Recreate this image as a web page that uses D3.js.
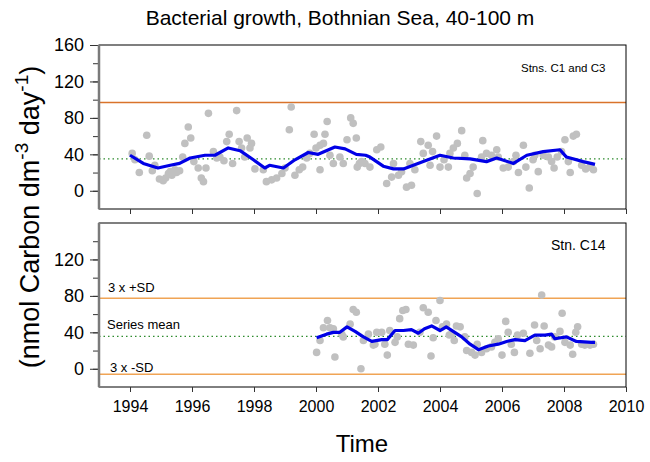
<!DOCTYPE html>
<html><head><meta charset="utf-8">
<script src="https://cdn.jsdelivr.net/npm/d3@7"></script>
<style>body{margin:0;background:#fff}svg{display:block}text{font-family:"Liberation Sans",Arial,sans-serif;fill:#000}</style>
</head><body>
<svg id="c" width="650" height="462"></svg>
<script>
// ---- data ----
const topPoints = [[1994.07,41],[1994.16,34],[1994.3,20],[1994.54,61],[1994.62,38],[1994.72,22],[1994.8,28],[1994.95,13],[1995.07,11],[1995.15,14],[1995.24,19],[1995.3,21],[1995.35,17],[1995.45,23],[1995.5,20],[1995.6,22],[1995.7,37],[1995.77,52],[1995.88,70],[1995.96,58],[1996.06,32],[1996.2,25],[1996.3,14],[1996.37,10],[1996.45,25],[1996.53,85],[1996.69,43],[1996.8,36],[1996.9,37],[1997.03,33],[1997.12,54],[1997.2,62],[1997.31,30],[1997.44,88],[1997.52,54],[1997.6,47],[1997.7,37],[1997.78,58],[1997.87,47],[1997.92,52],[1998.03,24],[1998.3,23],[1998.4,10],[1998.57,12],[1998.73,14],[1998.9,19],[1999.0,25],[1999.14,67],[1999.2,92],[1999.32,17],[1999.46,23],[1999.57,26],[1999.7,36],[1999.8,41],[1999.94,62],[2000.0,47],[2000.13,50],[2000.13,23],[2000.24,52],[2000.29,62],[2000.36,76],[2000.45,39],[2000.56,30],[2000.77,37],[2000.88,30],[2001.0,56],[2001.12,80],[2001.2,74],[2001.3,58],[2001.33,26],[2001.4,30],[2001.47,32],[2001.58,30],[2001.74,26],[2001.96,45],[2002.09,48],[2002.28,8],[2002.44,15],[2002.5,30],[2002.66,17],[2002.76,21],[2002.92,4],[2003.08,6],[2003.03,30],[2003.19,23],[2003.38,54],[2003.46,41],[2003.62,50],[2003.68,28],[2003.76,43],[2003.89,60],[2004.0,26],[2004.13,34],[2004.27,26],[2004.32,41],[2004.43,47],[2004.56,52],[2004.7,66],[2004.8,39],[2004.86,14],[2004.97,19],[2005.07,26],[2005.2,-3],[2005.34,37],[2005.38,55],[2005.5,41],[2005.66,39],[2005.83,45],[2005.88,37],[2006.04,25],[2006.2,26],[2006.37,32],[2006.45,39],[2006.53,20],[2006.69,50],[2006.77,26],[2006.88,3],[2007.0,34],[2007.06,39],[2007.17,21],[2007.33,39],[2007.5,37],[2007.6,32],[2007.68,25],[2007.78,37],[2007.92,43],[2008.03,56],[2008.14,32],[2008.2,20],[2008.3,60],[2008.4,62],[2008.57,28],[2008.7,24],[2008.84,26],[2008.95,23]];
const topSmooth = [[1994.0,39],[1994.43,30],[1994.9,25],[1995.3,28],[1995.6,30],[1995.94,36],[1996.42,39],[1996.74,39],[1997.17,47],[1997.55,44],[1997.98,34],[1998.35,25],[1998.5,28],[1998.95,25],[1999.32,34],[1999.75,42],[2000.07,40],[2000.61,48],[2000.94,46],[2001.3,40],[2001.6,39],[2001.74,37],[2002.17,27],[2002.5,24],[2002.82,24],[2003.14,28],[2003.46,32],[2004.0,39],[2004.43,36],[2004.97,35],[2005.5,32],[2005.83,36],[2006.37,30],[2006.8,39],[2007.33,43],[2007.87,45],[2008.08,37],[2008.62,32],[2009.0,29]];
const bottomPoints = [[2000.02,18],[2000.13,31],[2000.24,45],[2000.37,53],[2000.45,45],[2000.56,44],[2000.61,13],[2000.83,38],[2000.88,35],[2001.1,49],[2001.2,65],[2001.3,62],[2001.45,0],[2001.53,31],[2001.69,38],[2001.85,26],[2001.9,27],[2001.96,40],[2002.12,40],[2002.22,27],[2002.3,15],[2002.38,42],[2002.55,29],[2002.62,35],[2002.7,55],[2002.8,64],[2002.9,65],[2002.98,27],[2003.14,26],[2003.35,40],[2003.46,67],[2003.62,62],[2003.71,14],[2003.78,34],[2003.87,53],[2004.0,75],[2004.08,46],[2004.21,49],[2004.3,37],[2004.37,38],[2004.46,31],[2004.53,47],[2004.65,46],[2004.8,35],[2004.86,20],[2005.02,18],[2005.13,15],[2005.2,27],[2005.34,18],[2005.5,22],[2005.66,24],[2005.77,29],[2005.88,33],[2006.0,15],[2006.12,52],[2006.2,40],[2006.3,27],[2006.4,18],[2006.5,37],[2006.69,39],[2006.9,17],[2007.05,48],[2007.12,31],[2007.23,22],[2007.28,81],[2007.36,47],[2007.5,26],[2007.6,24],[2007.7,35],[2007.87,41],[2007.94,61],[2008.03,29],[2008.2,26],[2008.28,16],[2008.38,40],[2008.44,46],[2008.57,27],[2008.67,26],[2008.84,26],[2008.95,27]];
const bottomSmooth = [[2000.02,34],[2000.34,38],[2000.56,40],[2000.77,40],[2001.0,46],[2001.26,41],[2001.53,35],[2001.8,30],[2002.12,32],[2002.3,32],[2002.55,42],[2002.82,42],[2003.08,43],[2003.3,39],[2003.5,44],[2003.73,47],[2004.0,42],[2004.2,46],[2004.7,35],[2004.97,27],[2005.24,21],[2005.56,25],[2005.88,27],[2006.15,30],[2006.42,32],[2006.74,31],[2007.06,37],[2007.39,37],[2007.6,38],[2007.7,33],[2008.08,35],[2008.4,30],[2008.89,29],[2009.0,29]];
const topMean = 35, topPlus3SD = 97;
const bottomMean = 35.5, bottomPlus3SD = 77.5, bottomMinus3SD = -6;
const xTickYears = [1994,1996,1998,2000,2002,2004,2006,2008,2010];
const topYLabels = [0,40,80,120,160];
const bottomYLabels = [0,40,80,120];
const topMinor = [0,20,40,60,80,100,120,140,160];
const bottomMinor = [0,20,40,60,80,100,120,140];

// ---- drawing ----
const svg = d3.select("#c");
const L = 99, R = 626;
const FONT = "Liberation Sans, Arial, sans-serif";
const x = d3.scaleLinear([1993, 2010], [L, R]);
const panels = [
  {top:45, bottom:209, pts:topPoints, sm:topSmooth, labels:topYLabels, minor:topMinor, xlab:false,
   lines:[{v:topPlus3SD, c:"#d9732b", dash:null},{v:topMean, c:"#2e8b2e", dash:"1.5,3"}]},
  {top:223, bottom:387, pts:bottomPoints, sm:bottomSmooth, labels:bottomYLabels, minor:bottomMinor, xlab:true,
   lines:[{v:bottomPlus3SD, c:"#f0a455", dash:null},{v:bottomMean, c:"#2e8b2e", dash:"1.5,3"},{v:bottomMinus3SD, c:"#f0a455", dash:null}]}
];
panels.forEach(p => {
  const y = d3.scaleLinear([-20, 160], [p.bottom, p.top]);
  const g = svg.append("g");
  p.lines.forEach(l => {
    g.append("line").attr("x1", L).attr("x2", R).attr("y1", y(l.v)).attr("y2", y(l.v))
      .attr("stroke", l.c).attr("stroke-width", l.dash ? 1.2 : 1.5).attr("stroke-dasharray", l.dash);
  });
  g.selectAll("circle").data(p.pts).join("circle")
    .attr("cx", d => x(d[0])).attr("cy", d => y(d[1])).attr("r", 3.8).attr("fill", "#c0c0c0");
  g.append("path").datum(p.sm)
    .attr("d", d3.line().x(d => x(d[0])).y(d => y(d[1])))
    .attr("fill", "none").attr("stroke", "#0000e6").attr("stroke-width", 3.2).attr("stroke-linejoin", "round");
  g.append("rect").attr("x", L).attr("y", p.top).attr("width", R - L).attr("height", p.bottom - p.top)
    .attr("fill", "none").attr("stroke", "#000").attr("stroke-width", 1);
  const ay = svg.append("g").attr("transform", `translate(${L},0)`)
    .call(d3.axisLeft(y).tickValues(p.minor).tickSize(6).tickFormat(""));
  ay.select(".domain").remove();
  ay.selectAll("line").attr("stroke", "#333");
  const ay2 = svg.append("g").attr("transform", `translate(${L},0)`)
    .call(d3.axisLeft(y).tickValues(p.labels).tickSize(9).tickPadding(6).tickFormat(d3.format("d")));
  ay2.select(".domain").remove();
  ay2.selectAll("line").attr("stroke", "#333");
  ay2.selectAll("text").style("font-size", "18px").style("font-family", FONT).attr("fill", "#000");
  svg.append("line").attr("x1", L).attr("x2", L).attr("y1", p.top).attr("y2", p.bottom)
    .attr("stroke", "#7a7a7a").attr("stroke-width", 2.5);
  const ax = svg.append("g").attr("transform", `translate(0,${p.bottom})`)
    .call(d3.axisBottom(x).tickValues(xTickYears).tickSize(5).tickPadding(9)
      .tickFormat(p.xlab ? d3.format("d") : ""));
  ax.select(".domain").remove();
  ax.selectAll("line").attr("stroke", "#333");
  ax.selectAll("text").style("font-size", "16px").style("font-family", FONT).attr("fill", "#000");
});

// annotations
svg.append("text").attr("x", 521).attr("y", 72).style("font-size", "11.5px").text("Stns. C1 and C3");
svg.append("text").attr("x", 551).attr("y", 250).style("font-size", "14px").text("Stn. C14");
svg.append("text").attr("x", 108).attr("y", 292).style("font-size", "13px").text("3 x +SD");
svg.append("text").attr("x", 107).attr("y", 329).style("font-size", "13px").text("Series mean");
svg.append("text").attr("x", 110).attr("y", 372).style("font-size", "13px").text("3 x -SD");

// titles
svg.append("text").attr("x", 340).attr("y", 25).attr("text-anchor", "middle").style("font-size", "21px")
  .text("Bacterial growth, Bothnian Sea, 40-100 m");
svg.append("text").attr("x", 362).attr("y", 452).attr("text-anchor", "middle").style("font-size", "24px").text("Time");
const yl = svg.append("text").attr("transform", "translate(39,217) rotate(-90)").attr("text-anchor", "middle")
  .style("font-size", "27px");
yl.append("tspan").text("(nmol Carbon dm");
yl.append("tspan").attr("dy", -11).style("font-size", "19px").text("-3");
yl.append("tspan").attr("dy", 11).text(" day");
yl.append("tspan").attr("dy", -11).style("font-size", "19px").text("-1");
yl.append("tspan").attr("dy", 11).text(")");
</script>
</body></html>
